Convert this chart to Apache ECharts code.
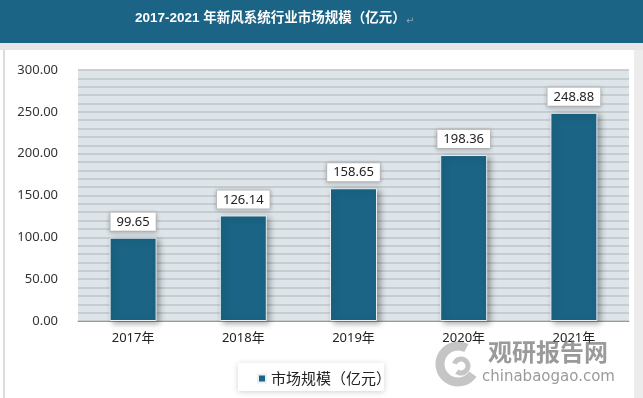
<!DOCTYPE html>
<html>
<head>
<meta charset="utf-8">
<script src="https://cdn.jsdelivr.net/npm/echarts@6/dist/echarts.min.js"></script>
<style>
  html, body { margin: 0; padding: 0; background: #fff; }
  #chart { width: 643px; height: 398px; }
</style>
</head>
<body>
<div id="chart"></div>
<script>
var years = ['2017年', '2018年', '2019年', '2020年', '2021年'];
var scale = [99.65, 126.14, 158.65, 198.36, 248.88];
var seriesName = '市场规模（亿元）';
var titleText = '2017-2021 年新风系统行业市场规模（亿元）';

var myChart = echarts.init(document.getElementById('chart'));

myChart.setOption({
    backgroundColor: '#ffffff',
    animation: false,
    graphic: [
        // 页面边框
        { type: 'rect', left: 0, top: 43, shape: { width: 643, height: 7 }, style: { fill: '#e6e6e6' }, z: 0 },
        { type: 'rect', left: 3, top: 50, shape: { width: 2, height: 348 }, style: { fill: '#dcdcdc' }, z: 0 },
        { type: 'rect', left: 634, top: 50, shape: { width: 9, height: 348 }, style: { fill: '#ececec' }, z: 0 },
        // 标题栏
        { type: 'rect', left: 0, top: 0, shape: { width: 643, height: 43 }, style: { fill: '#1b6485' }, z: 1 },
        {
            type: 'text', left: 135, top: 12, z: 2,
            style: { text: titleText, fill: '#ffffff', font: 'bold 13.5px "Liberation Sans", "Noto Sans CJK SC", sans-serif' }
        },
        {
            type: 'text', left: 406, top: 16, z: 2,
            style: { text: '↵', fill: '#8aa6b6', font: '10px "DejaVu Sans"' }
        },
        // 图例底框
        {
            type: 'rect', left: 238, top: 363, shape: { width: 146, height: 28 }, z: 1,
            style: { fill: '#ffffff', shadowBlur: 6, shadowColor: 'rgba(0,0,0,0.18)', shadowOffsetY: 1 }
        },
        // 水印
        {
            type: 'arc', z: 5,
            shape: { cx: 458, cy: 364, r: 18, startAngle: 0.6, endAngle: 5.2 },
            style: { stroke: 'rgba(150,150,150,0.55)', lineWidth: 9, fill: 'none' }
        },
        {
            type: 'arc', z: 5,
            shape: { cx: 461, cy: 366, r: 7, startAngle: 3.5, endAngle: 8.5 },
            style: { stroke: 'rgba(150,150,150,0.55)', lineWidth: 5, fill: 'none' }
        },
        {
            type: 'text', left: 488, top: 340, z: 5,
            style: { text: '观研报告网', fill: 'rgba(120,120,120,0.75)', font: 'bold 24px "Noto Sans CJK SC"' }
        },
        {
            type: 'text', left: 482, top: 370, z: 5,
            style: { text: 'chinabaogao.com', fill: 'rgba(120,120,120,0.75)', font: '15px "DejaVu Sans"' }
        }
    ],
    legend: {
        data: [seriesName],
        left: 252,
        top: 366,
        icon: 'rect',
        itemWidth: 8,
        itemHeight: 8,
        itemGap: 6,
        textStyle: { fontSize: 15, color: '#222', fontFamily: 'Noto Sans CJK SC' }
    },
    grid: {
        left: 78,
        right: 14,
        top: 70,
        bottom: 77,
        show: true,
        backgroundColor: '#dde5ea',
        borderWidth: 0
    },
    xAxis: {
        type: 'category',
        data: years,
        axisTick: { show: false },
        axisLine: { lineStyle: { color: '#9a9a9a', width: 1 } },
        axisLabel: { margin: 11, fontSize: 13, color: '#222', fontFamily: '"Noto Sans", "Noto Sans CJK SC"' }
    },
    yAxis: {
        type: 'value',
        min: 0,
        max: 300,
        interval: 10,
        axisLine: { show: false },
        axisTick: { show: false },
        splitLine: { lineStyle: { color: '#bfc3c6', width: 1.5 } },
        axisLabel: {
            margin: 20,
            fontSize: 13,
            color: '#333',
            fontFamily: '"Noto Sans"',
            formatter: function (v) {
                return v % 50 === 0 ? v.toFixed(2) : '';
            }
        }
    },
    series: [{
        name: seriesName,
        type: 'bar',
        data: scale,
        barWidth: 47,
        itemStyle: {
            color: '#1b6485',
            borderColor: '#e9eff2',
            borderWidth: 1,
            shadowBlur: 6,
            shadowOffsetX: 3,
            shadowOffsetY: 2,
            shadowColor: 'rgba(0,0,0,0.35)'
        },
        label: {
            show: true,
            position: 'top',
            distance: 7,
            formatter: function (p) { return p.value.toFixed(2); },
            fontSize: 13,
            color: '#222',
            fontFamily: '"Noto Sans"',
            backgroundColor: '#ffffff',
            borderColor: '#c8c8c8',
            borderWidth: 1,
            padding: [3, 6, 2, 6],
            shadowBlur: 4,
            shadowColor: 'rgba(0,0,0,0.2)',
            shadowOffsetY: 1
        }
    }]
});
</script>
</body>
</html>
